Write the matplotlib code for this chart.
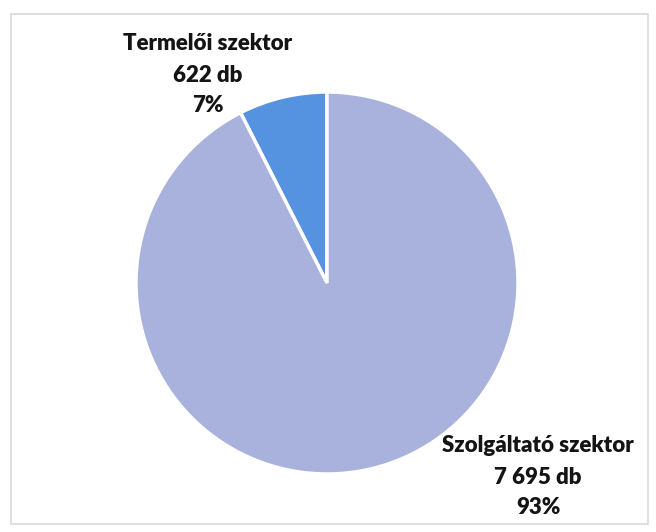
import matplotlib
matplotlib.use("Agg")
import matplotlib.pyplot as plt
from matplotlib.patches import Rectangle

categories = ["Termelői szektor", "Szolgáltató szektor"]
counts = [622, 7695]
count_labels = ["622 db", "7 695 db"]
pct_labels = ["7%", "93%"]
colors = ["#5592e0", "#a9b2dd"]

W, H = 656, 532
fig = plt.figure(figsize=(W / 100, H / 100), dpi=100)
ax = fig.add_axes([0, 0, 1, 1])

cx, cy, r = 327, H - 283, 191
ax.pie(counts, colors=colors, startangle=90, counterclock=True,
       center=(cx, cy), radius=r, frame=True,
       wedgeprops=dict(edgecolor="white", linewidth=2.5))
ax.set_xlim(0, W)
ax.set_ylim(0, H)
ax.set_aspect("equal")
ax.axis("off")

ax.add_patch(Rectangle((11, H - 524), 637, 510, fill=False,
                       edgecolor="#d9d9d9", linewidth=1.2))

font = ["Lato", "DejaVu Sans"]
label_pos = [(208, H - 44), (538, H - 446)]
for (x, y), cat, cnt, pct in zip(label_pos, categories, count_labels, pct_labels):
    for i, t in enumerate([cat, cnt, pct]):
        ax.text(x, y - i * 31, t, ha="center", va="center", fontsize=16,
                fontweight="heavy", family=font, color="#141414")

fig.savefig("out.png", dpi=100)
